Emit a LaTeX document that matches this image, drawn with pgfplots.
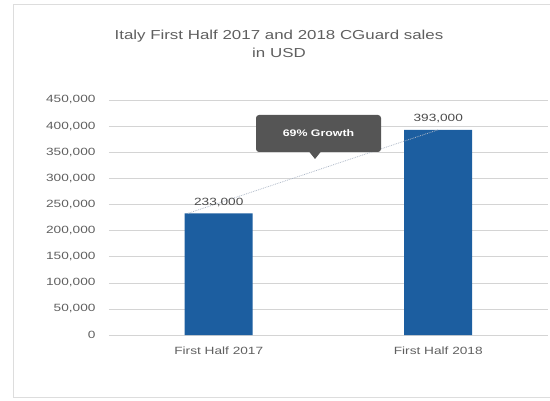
\documentclass[border=0pt]{standalone}
\usepackage{pgfplots}
\pgfplotsset{compat=1.18}
\usepackage{fontspec}
\setmainfont[FakeStretch=1.3]{Liberation Sans}
\definecolor{barblue}{RGB}{28,94,160}
\definecolor{tickgray}{RGB}{95,95,95}
\definecolor{labelgray}{RGB}{75,75,75}
\definecolor{gridgray}{RGB}{212,212,212}
\definecolor{calloutgray}{RGB}{85,85,85}
\definecolor{dotline}{RGB}{175,185,200}
\begin{document}
\begin{tikzpicture}[x=1pt,y=1pt]
\path[use as bounding box] (0,0) rectangle (550,400);
\draw[gridgray!80] (13.5,2.5) rectangle (552,395.5);
\node[align=center, font=\fontsize{13}{18}\selectfont, text=tickgray] at (279,356)
  {Italy First Half 2017 and 2018 CGuard sales\\in USD};
\begin{axis}[
  at={(109pt,65pt)}, anchor=south west,
  scale only axis, width=439pt, height=235pt,
  xmin=-0.5, xmax=1.5, ymin=0, ymax=450000,
  axis line style={draw=none},
  ytick={0,50000,100000,150000,200000,250000,300000,350000,400000,450000},
  yticklabels={0,{50,000},{100,000},{150,000},{200,000},{250,000},{300,000},{350,000},{400,000},{450,000}},
  ymajorgrids, grid style={gridgray},
  major tick length=0pt,
  xtick={0,1}, xticklabels={First Half 2017, First Half 2018},
  scaled y ticks=false,
  tick label style={font=\fontsize{10.5}{12}\selectfont, text=tickgray},
  yticklabel style={xshift=-10pt},
  xticklabel style={yshift=-8pt},
  clip=false,
]
\addplot[ybar, bar width=68pt, fill=barblue, draw=none,
  nodes near coords, point meta=explicit symbolic,
  nodes near coords style={font=\fontsize{10.5}{12}\selectfont, text=labelgray, yshift=3pt}]
  coordinates {(0,233000) [233,000] (1,393000) [393,000]};
\addplot[sharp plot, no marks, densely dotted, dotline, thick] coordinates {(-0.14,233000) (1,393000)};
\end{axis}
\fill[calloutgray, rounded corners=3pt] (256,248) rectangle (381,285);
\fill[calloutgray] (309,248.5) -- (321,248.5) -- (315,241) -- cycle;
\node[text=white, font=\bfseries\fontsize{9.5}{11}\selectfont] at (318.5,266.5) {69\% Growth};
\end{tikzpicture}
\end{document}
